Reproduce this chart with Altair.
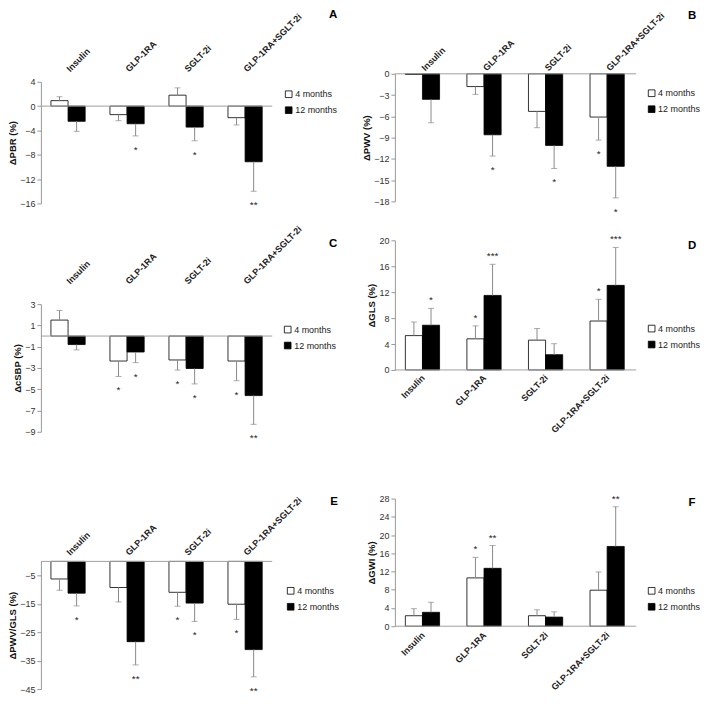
import altair as alt
import pandas as pd

categories = ["Insulin", "GLP-1RA", "SGLT-2i", "GLP-1RA+SGLT-2i"]
periods = ["4 months", "12 months"]

# Panel A: ΔPBR (%)
pbr_4m = [0.9, -1.4, 1.8, -1.9]
pbr_4m_sd = [0.65, 1.0, 1.2, 1.2]
pbr_12m = [-2.5, -2.9, -3.45, -9.15]
pbr_12m_sd = [1.65, 2.0, 2.25, 4.85]
pbr_4m_sig = ["", "", "", ""]
pbr_12m_sig = ["", "*", "*", "**"]

# Panel B: ΔPWV (%)
pwv_4m = [-0.1, -1.8, -5.3, -6.1]
pwv_4m_sd = [0.0, 1.1, 2.3, 3.25]
pwv_12m = [-3.6, -8.6, -10.1, -13.05]
pwv_12m_sd = [3.3, 3.0, 3.25, 4.45]
pwv_4m_sig = ["", "", "", "*"]
pwv_12m_sig = ["", "*", "*", "*"]

# Panel C: ΔcSBP (%)
csbp_4m = [1.5, -2.35, -2.25, -2.35]
csbp_4m_sd = [0.9, 1.45, 0.95, 1.85]
csbp_12m = [-0.8, -1.5, -3.05, -5.6]
csbp_12m_sd = [0.5, 1.0, 1.45, 2.7]
csbp_4m_sig = ["", "*", "*", "*"]
csbp_12m_sig = ["", "*", "*", "**"]

# Panel D: ΔGLS (%)
gls_4m = [5.3, 4.8, 4.6, 7.55]
gls_4m_sd = [2.1, 2.0, 1.8, 3.35]
gls_12m = [6.9, 11.5, 2.35, 13.05]
gls_12m_sd = [2.6, 4.8, 1.7, 5.85]
gls_4m_sig = ["", "*", "", "*"]
gls_12m_sig = ["*", "***", "", "***"]

# Panel E: ΔPWV/GLS (%)
pg_4m = [-6.2, -9.2, -10.9, -15.1]
pg_4m_sd = [4.0, 5.1, 4.9, 5.35]
pg_12m = [-11.2, -28.3, -14.7, -31.1]
pg_12m_sd = [4.5, 8.2, 6.45, 9.6]
pg_4m_sig = ["", "", "*", "*"]
pg_12m_sig = ["*", "**", "*", "**"]

# Panel F: ΔGWI (%)
gwi_4m = [2.3, 10.6, 2.3, 7.9]
gwi_4m_sd = [1.55, 4.5, 1.3, 4.0]
gwi_12m = [3.05, 12.7, 2.0, 17.5]
gwi_12m_sd = [2.2, 5.0, 1.15, 8.7]
gwi_4m_sig = ["", "*", "", ""]
gwi_12m_sig = ["", "**", "", "**"]

panels = [
    dict(key="A", title="ΔPBR (%)", m4=pbr_4m, s4=pbr_4m_sd, g4=pbr_4m_sig,
         m12=pbr_12m, s12=pbr_12m_sd, g12=pbr_12m_sig,
         domain=[-16, 4], ticks=[-16, -12, -8, -4, 0, 4]),
    dict(key="B", title="ΔPWV (%)", m4=pwv_4m, s4=pwv_4m_sd, g4=pwv_4m_sig,
         m12=pwv_12m, s12=pwv_12m_sd, g12=pwv_12m_sig,
         domain=[-18, 0], ticks=[-18, -15, -12, -9, -6, -3, 0]),
    dict(key="C", title="ΔcSBP (%)", m4=csbp_4m, s4=csbp_4m_sd, g4=csbp_4m_sig,
         m12=csbp_12m, s12=csbp_12m_sd, g12=csbp_12m_sig,
         domain=[-9, 3], ticks=[-9, -7, -5, -3, -1, 1, 3]),
    dict(key="D", title="ΔGLS (%)", m4=gls_4m, s4=gls_4m_sd, g4=gls_4m_sig,
         m12=gls_12m, s12=gls_12m_sd, g12=gls_12m_sig,
         domain=[0, 20], ticks=[0, 4, 8, 12, 16, 20]),
    dict(key="E", title="ΔPWV/GLS (%)", m4=pg_4m, s4=pg_4m_sd, g4=pg_4m_sig,
         m12=pg_12m, s12=pg_12m_sd, g12=pg_12m_sig,
         domain=[-45, 0], ticks=[-45, -35, -25, -15, -5]),
    dict(key="F", title="ΔGWI (%)", m4=gwi_4m, s4=gwi_4m_sd, g4=gwi_4m_sig,
         m12=gwi_12m, s12=gwi_12m_sd, g12=gwi_12m_sig,
         domain=[0, 28], ticks=[0, 4, 8, 12, 16, 20, 24, 28]),
]

# layout (pixels): width, height, plot range top/bottom, axis side, label padding,
# legend position, panel-letter position, star placement
layouts = {
    "A": dict(w=232, h=130, rt=8, rb=130, orient="top", lp=12, lx=244, ly=16, tx=293, ty=-59, up=False),
    "B": dict(w=242, h=130, rt=0, rb=128, orient="top", lp=5, lx=253, ly=15, tx=298, ty=-58, up=False),
    "C": dict(w=232, h=222, rt=64, rb=192, orient="top", lp=22, lx=243, ly=85, tx=293, ty=4, up=False),
    "D": dict(w=242, h=222, rt=0, rb=130, orient="bottom", lp=6, lx=253, ly=84, tx=298, ty=6, up=True),
    "E": dict(w=232, h=191, rt=63, rb=191, orient="top", lp=8, lx=246, ly=88, tx=294, ty=3, up=False),
    "F": dict(w=242, h=128, rt=0, rb=128, orient="bottom", lp=7, lx=253, ly=88, tx=298, ty=4, up=True),
}

FONT = "Liberation Sans"
ERR = "#8a8a8a"


def make_panel(cfg):
    lay = layouts[cfg["key"]]
    rows = []
    for i, c in enumerate(categories):
        for p, vals, sds, sigs in [
            (periods[0], cfg["m4"], cfg["s4"], cfg["g4"]),
            (periods[1], cfg["m12"], cfg["s12"], cfg["g12"]),
        ]:
            v = vals[i]
            sd = sds[i]
            end = v + sd if v >= 0 else v - sd
            rows.append(dict(category=c, period=p, value=v, sd=sd, end=end, sig=sigs[i]))
    df = pd.DataFrame(rows)

    if lay["orient"] == "top":
        x_off = -lay["rt"]
        lab_align = "left"
    else:
        x_off = -(lay["h"] - lay["rb"])
        lab_align = "right"

    x_axis = alt.Axis(orient=lay["orient"], labelAngle=-45, labelAlign=lab_align,
                      labelBaseline="middle", domain=False, ticks=False,
                      labelPadding=lay["lp"], offset=x_off, labelFont=FONT,
                      labelFontWeight="bold", labelFontSize=9, labelColor="#222",
                      title=None)
    x = alt.X("category:N", sort=categories, title=None,
              scale=alt.Scale(paddingInner=0.42, paddingOuter=0.17), axis=x_axis)
    xo = alt.XOffset("period:N", sort=periods,
                     scale=alt.Scale(paddingInner=0, paddingOuter=0))
    y_scale = alt.Scale(domain=cfg["domain"], range=[lay["rb"], lay["rt"]], nice=False, zero=False)
    y_axis = alt.Axis(values=cfg["ticks"], title=cfg["title"], grid=False,
                      domainColor="#999", tickColor="#999", tickSize=4,
                      labelFont=FONT, labelFontSize=9, labelColor="#333",
                      titleFont=FONT, titleFontSize=9.5, titleFontWeight="bold",
                      titleColor="#111", titlePadding=2)

    def yenc(field):
        return alt.Y(field, scale=y_scale, axis=y_axis, title=cfg["title"])

    base = alt.Chart(df)
    bars = base.mark_bar(stroke="black", strokeWidth=0.8).encode(
        x=x, xOffset=xo, y=yenc("value:Q"),
        fill=alt.Fill("period:N", sort=periods,
                      scale=alt.Scale(domain=periods, range=["white", "black"]),
                      legend=alt.Legend(title=None, orient="none", legendX=lay["lx"],
                                        legendY=lay["ly"], symbolType="square",
                                        symbolSize=45, symbolStrokeColor="black",
                                        symbolStrokeWidth=0.8, labelFont=FONT,
                                        labelFontSize=9, labelColor="#222",
                                        rowPadding=5, labelOffset=2, padding=0)),
    )
    errbase = base.transform_filter("datum.sd > 0")
    err = errbase.mark_rule(color=ERR, strokeWidth=1).encode(
        x=x, xOffset=xo, y=yenc("value:Q"), y2="end:Q")
    cap = errbase.mark_tick(color=ERR, size=6, thickness=1, orient="horizontal").encode(
        x=x, xOffset=xo, y=yenc("end:Q"))
    if lay["up"]:
        star_mark = dict(baseline="alphabetic", dy=-5)
    else:
        star_mark = dict(baseline="top", dy=9)
    stars = base.transform_filter("datum.sig != ''").mark_text(
        fontSize=10, font=FONT, color="#222", align="center", **star_mark).encode(
        x=x, xOffset=xo, y=yenc("end:Q"), text="sig:N")
    zero = alt.Chart(pd.DataFrame({"z": [0]})).mark_rule(color="#a0a0a0", strokeWidth=1).encode(
        y=yenc("z:Q"))
    letter = alt.Chart(pd.DataFrame({"t": [cfg["key"]]})).mark_text(
        font=FONT, fontSize=11.5, fontWeight="bold", align="center", baseline="middle",
        color="black").encode(x=alt.value(lay["tx"]), y=alt.value(lay["ty"]), text="t:N")

    return alt.layer(bars, zero, err, cap, stars, letter).properties(
        width=lay["w"], height=lay["h"])


charts = [make_panel(p) for p in panels]

chart = alt.concat(
    *charts, columns=2, spacing={"row": 37, "column": 123}, bounds="flush", align="each"
).resolve_scale(fill="independent").resolve_legend(fill="independent").properties(
    padding={"left": -1, "top": 0, "right": 0, "bottom": 0}, background="white"
).configure_view(stroke=None)

chart.save("out.html", embed_options={"renderer": "svg", "actions": False})
